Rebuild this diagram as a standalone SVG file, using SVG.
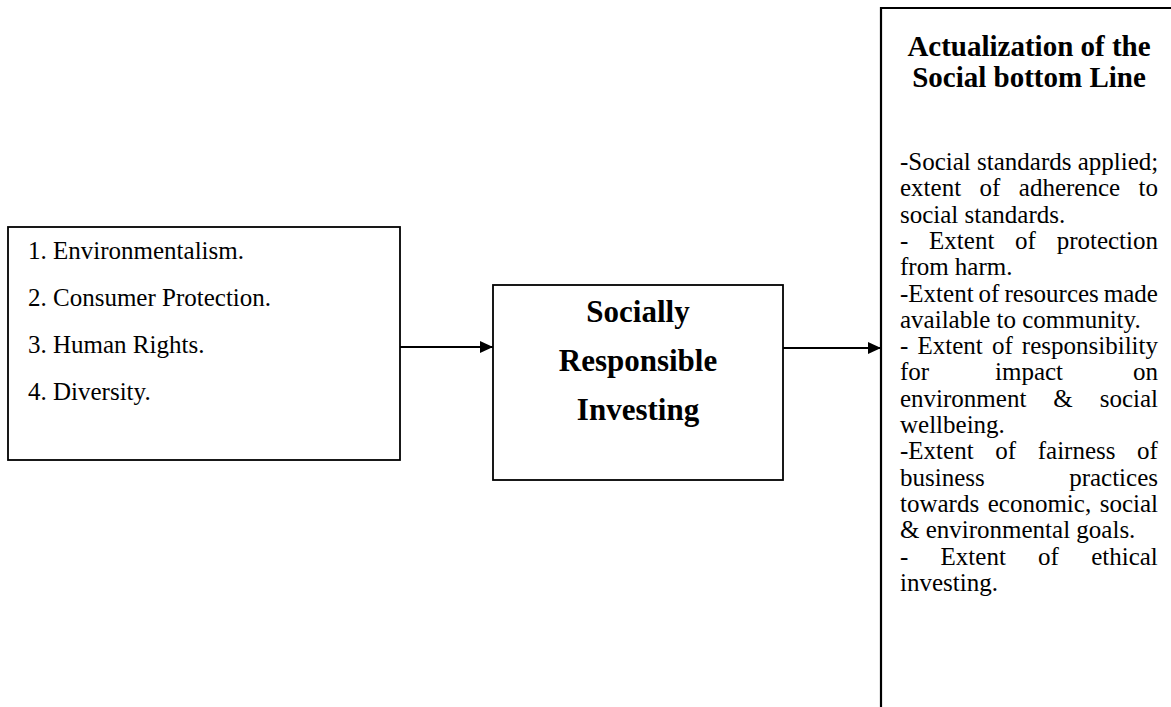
<svg xmlns="http://www.w3.org/2000/svg" width="1171" height="707" viewBox="0 0 1171 707">
<style>
.box{fill:#fff;stroke:#000;stroke-width:1.8}
.t{font-family:"Liberation Serif","Times New Roman",serif;font-size:25px;fill:#000}
.h{font-family:"Liberation Serif","Times New Roman",serif;font-weight:bold;fill:#000}
.c{font-size:31px;text-anchor:middle}
.ti{font-size:29px;text-anchor:middle}
.e{text-anchor:end}
.conn{stroke:#000;stroke-width:2;fill:none}
</style>
<defs>
<marker id="arr" markerUnits="userSpaceOnUse" markerWidth="14" markerHeight="12" refX="13" refY="6" orient="auto">
<path d="M0,0 L13,6 L0,12 Z" fill="#000"/>
</marker>
</defs>
<rect width="1171" height="707" fill="#fff"/>
<g id="factors">
<rect class="box" x="8" y="227" width="392" height="233"/>
<text class="t" x="28" y="259">1. Environmentalism.</text>
<text class="t" x="28" y="306">2. Consumer Protection.</text>
<text class="t" x="28" y="353">3. Human Rights.</text>
<text class="t" x="28" y="400">4. Diversity.</text>
</g>
<g id="sri">
<rect class="box" x="493" y="285" width="290" height="195"/>
<text class="h c" x="638" y="322">Socially</text>
<text class="h c" x="638" y="371">Responsible</text>
<text class="h c" x="638" y="420">Investing</text>
</g>
<g id="actualization">
<path d="M1175,8 H881 V710" fill="none" stroke="#000" stroke-width="2.2"/>
<text class="h ti" x="1029" y="56">Actualization of the</text>
<text class="h ti" x="1029" y="87">Social bottom Line</text>
<text class="t" x="900" y="170">-Social standards applied;</text>
<text class="t" x="900" y="196.3" word-spacing="12.2">extent of adherence to</text>
<text class="t" x="900" y="222.6">social standards.</text>
<text class="t" x="900" y="248.9" word-spacing="14.5">- Extent of protection</text>
<text class="t" x="900" y="275.2">from harm.</text>
<text class="t" x="900" y="301.5" word-spacing="-1.25">-Extent of resources made</text>
<text class="t" x="900" y="327.8">available to community.</text>
<text class="t" x="900" y="354.1" word-spacing="2.9">- Extent of responsibility</text>
<text class="t" x="900" y="380.4">for</text>
<text class="t" x="1029" y="380.4" text-anchor="middle">impact</text>
<text class="t e" x="1158" y="380.4">on</text>
<text class="t" x="900" y="406.7" word-spacing="20.7">environment &amp; social</text>
<text class="t" x="900" y="433">wellbeing.</text>
<text class="t" x="900" y="459.3" word-spacing="15.4">-Extent of fairness of</text>
<text class="t" x="900" y="485.6">business</text>
<text class="t e" x="1158" y="485.6">practices</text>
<text class="t" x="900" y="511.9" word-spacing="2.3">towards economic, social</text>
<text class="t" x="900" y="538.2">&amp; environmental goals.</text>
<text class="t" x="900" y="564.5" word-spacing="26">- Extent of ethical</text>
<text class="t" x="900" y="590.8">investing.</text>
</g>
<g id="connectors">
<line class="conn" x1="400" y1="347" x2="493" y2="347" marker-end="url(#arr)"/>
<line class="conn" x1="783" y1="348" x2="881" y2="348" marker-end="url(#arr)"/>
</g>
</svg>
